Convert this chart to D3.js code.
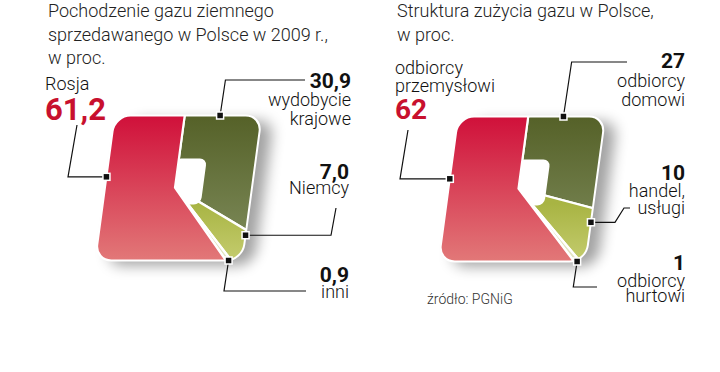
<!DOCTYPE html>
<html>
<head>
<meta charset="utf-8">
<script src="https://cdn.jsdelivr.net/npm/d3@7"></script>
<style>
body { margin: 0; background: #fff; }
text { font-family: Roboto, "Open Sans", sans-serif; }
</style>
</head>
<body>
<svg id="chart" width="720" height="372"></svg>
<script>
// slices are listed clockwise from 12 o'clock
var originNames = [["wydobycie", "krajowe"], ["Niemcy"], ["inni"], ["Rosja"]];
var originValues = [30.9, 7.0, 0.9, 61.2];

var useNames = [["odbiorcy", "domowi"], ["handel,", "usługi"], ["odbiorcy", "hurtowi"], ["odbiorcy", "przemysłowi"]];
var useValues = [27, 10, 1, 62];

var titleLeft = ["Pochodzenie gazu ziemnego", "sprzedawanego w Polsce w 2009 r.,", "w proc."];
var titleRight = ["Struktura zużycia gazu w Polsce,", "w proc."];
var sourceNote = "źródło: PGNiG";

// colours: [top, bottom] of each slice gradient
var sliceColors = [["#556128", "#7a8756"], ["#a8b443", "#c4cc6e"], ["#d9ddb0", "#e4e6c4"], ["#d0103a", "#e27878"]];
var gradRange = [[-72, 50], [15, 73], [15, 73], [-72, 73]];
var red = "#c8102e";

var plLocale = d3.formatLocale({ decimal: ",", thousands: " ", grouping: [3], currency: ["", " zł"] });

var svg = d3.select("#chart");
var defs = svg.append("defs");

var skew = 0.135; // horizontal lean of the tiles
var outer = { x0: -70, x1: 77, y0: -72, y1: 73, r: 16 };
var hole = { x0: -5, x1: 28, y0: -29, y1: 17, r: 7 };

var shadow = defs.append("filter").attr("id", "shadow")
    .attr("x", "-30%").attr("y", "-30%").attr("width", "160%").attr("height", "160%");
shadow.append("feGaussianBlur").attr("stdDeviation", 7);

function inRound(x, y, b) {
    if (x < b.x0 || x > b.x1 || y < b.y0 || y > b.y1) return false;
    var dx = Math.max(b.x0 + b.r - x, 0, x - (b.x1 - b.r));
    var dy = Math.max(b.y0 + b.r - y, 0, y - (b.y1 - b.r));
    return dx * dx + dy * dy <= b.r * b.r;
}

// pie angle -> angle that gives the same share of the tile's area
function areaWarp() {
    var list = [];
    for (var x = outer.x0; x <= outer.x1; x += 0.5) {
        for (var y = outer.y0; y <= outer.y1; y += 0.5) {
            if (!inRound(x, y, outer)) continue;
            if (x >= 0 && inRound(x, y, hole)) continue;
            var a = Math.atan2(x, -y);
            if (a < 0) a += 2 * Math.PI;
            list.push(a);
        }
    }
    var angles = Float64Array.from(list).sort();
    var n = angles.length;
    return function(t) {
        if (t <= 0) return 0;
        if (t >= 2 * Math.PI - 1e-9) return 2 * Math.PI;
        return angles[Math.min(n - 1, Math.round(t / (2 * Math.PI) * n))];
    };
}
var warp = areaWarp();

function edgePoint(a) {
    var dx = Math.sin(a), dy = -Math.cos(a);
    var t = Infinity;
    if (dx > 1e-9) t = Math.min(t, outer.x1 / dx);
    if (dx < -1e-9) t = Math.min(t, outer.x0 / dx);
    if (dy > 1e-9) t = Math.min(t, outer.y1 / dy);
    if (dy < -1e-9) t = Math.min(t, outer.y0 / dy);
    return [dx * t, dy * t];
}

var charts = [{
    id: "a", names: originNames, values: originValues, fmt: plLocale.format(".1f"),
    cx: 175, cy: 187.5, title: titleLeft, titleX: 48,
    labels: [
        { anchor: "end", x: 351, numY: 88, nameY: [106, 125], k: 0.22, leader: [["s", 80], ["h", 305]] },
        { anchor: "end", x: 349, numY: 179, nameY: [194], k: 0.15, leader: [["h", 331], ["p", 336, 208]] },
        { anchor: "end", x: 349, numY: 281.5, nameY: [297.5], k: 0.5, leader: [["s", 291], ["h", 306]] },
        { anchor: "start", x: 45, numY: 120, nameY: [89.5], k: 0.63, size: 31, leader: [["h", 68], ["p", 77, 125]] }
    ]
}, {
    id: "b", names: useNames, values: useValues, fmt: plLocale.format("d"),
    cx: 518.5, cy: 188.5, title: titleRight, titleX: 397,
    labels: [
        { anchor: "end", x: 685, numY: 68, nameY: [87, 106], k: 0.25, leader: [["s", 62], ["h", 627]] },
        { anchor: "end", x: 685, numY: 180, nameY: [196.5, 214], k: 0.3, leader: [["h", 615], ["p", 624, 208], ["p", 630, 208]] },
        { anchor: "end", x: 685, numY: 270, nameY: [286.5, 301.5], k: 0.5, leader: [["s", 287], ["h", 597]] },
        { anchor: "start", x: 395, numY: 119, nameY: [74, 92], k: 0.63, size: 28, leader: [["h", 400], ["p", 408, 130]] }
    ]
}];

var pie = d3.pie().sort(null).value(function(d) { return d; });
var arc = d3.arc().innerRadius(0).outerRadius(160);

charts.forEach(function(c) {
    // title
    svg.append("g").selectAll("text").data(c.title).enter().append("text")
        .attr("x", c.titleX)
        .attr("y", function(d, i) { return 17 + i * 23.5; })
        .attr("font-size", 18).attr("font-weight", 300).attr("fill", "#222")
        .text(function(d) { return d; });

    var arcs = pie(c.values).map(function(d) {
        return { data: d.data, index: d.index, startAngle: warp(d.startAngle), endAngle: warp(d.endAngle) };
    });
    var big = d3.maxIndex(c.values);

    sliceColors.forEach(function(col, i) {
        var g = defs.append("linearGradient").attr("id", "g" + c.id + i)
            .attr("gradientUnits", "userSpaceOnUse")
            .attr("x1", 0).attr("x2", 0).attr("y1", gradRange[i][0]).attr("y2", gradRange[i][1]);
        g.append("stop").attr("offset", 0).attr("stop-color", col[0]);
        g.append("stop").attr("offset", 1).attr("stop-color", col[1]);
    });

    defs.append("clipPath").attr("id", "clip" + c.id).append("rect")
        .attr("x", outer.x0).attr("y", outer.y0)
        .attr("width", outer.x1 - outer.x0).attr("height", outer.y1 - outer.y0)
        .attr("rx", outer.r);

    var lean = "skewX(" + (-Math.atan(skew) * 180 / Math.PI) + ")";

    svg.append("rect")
        .attr("transform", "translate(" + (c.cx + 12) + "," + (c.cy + 5) + ") " + lean)
        .attr("x", outer.x0).attr("y", outer.y0)
        .attr("width", outer.x1 - outer.x0).attr("height", outer.y1 - outer.y0)
        .attr("rx", outer.r)
        .attr("fill", "#000").attr("opacity", 0.36)
        .attr("filter", "url(#shadow)");

    var tile = svg.append("g").attr("transform", "translate(" + c.cx + "," + c.cy + ") " + lean);
    var body = tile.append("g").attr("clip-path", "url(#clip" + c.id + ")");

    function slice(d) {
        body.append("path")
            .attr("d", arc(d))
            .attr("fill", "url(#g" + c.id + d.index + ")")
            .attr("stroke", "#fff").attr("stroke-width", 2.2)
            .attr("stroke-linejoin", "round");
    }
    arcs.filter(function(d) { return d.index !== big; }).forEach(slice);
    body.append("rect")
        .attr("x", hole.x0).attr("y", hole.y0)
        .attr("width", hole.x1 - hole.x0).attr("height", hole.y1 - hole.y0)
        .attr("rx", hole.r)
        .attr("fill", "#fff");
    slice(arcs[big]);

    tile.append("rect")
        .attr("x", outer.x0).attr("y", outer.y0)
        .attr("width", outer.x1 - outer.x0).attr("height", outer.y1 - outer.y0)
        .attr("rx", outer.r)
        .attr("fill", "none").attr("stroke", "#fff").attr("stroke-width", 2);

    // leaders, markers, labels
    arcs.forEach(function(d, i) {
        var lab = c.labels[i];
        var e = edgePoint(d.startAngle + lab.k * (d.endAngle - d.startAngle));
        var m = [c.cx + e[0] - skew * e[1], c.cy + e[1]];
        var pts = [m];
        lab.leader.forEach(function(s) {
            var last = pts[pts.length - 1];
            if (s[0] === "h") pts.push([s[1], last[1]]);
            else if (s[0] === "s") pts.push([last[0] + (last[1] - s[1]) * 0.15, s[1]]);
            else pts.push([s[1], s[2]]);
        });
        svg.append("path")
            .attr("d", d3.line()(pts))
            .attr("fill", "none").attr("stroke", "#111").attr("stroke-width", 1.2);
        svg.append("rect")
            .attr("x", m[0] - 3.5).attr("y", m[1] - 3.5)
            .attr("width", 7).attr("height", 7)
            .attr("fill", "#111").attr("stroke", "#fff").attr("stroke-width", 1.5);

        var isBig = i === big;
        svg.append("text")
            .attr("x", lab.x).attr("y", lab.numY)
            .attr("text-anchor", lab.anchor)
            .attr("font-size", lab.size || 21).attr("font-weight", 700)
            .attr("fill", isBig ? red : "#111")
            .text(c.fmt(d.data));
        svg.append("g").selectAll("text").data(c.names[i]).enter().append("text")
            .attr("x", lab.x)
            .attr("y", function(t, j) { return lab.nameY[j]; })
            .attr("text-anchor", lab.anchor)
            .attr("font-size", 18).attr("font-weight", 300).attr("fill", "#111")
            .text(function(t) { return t; });
    });
});

svg.append("text")
    .attr("x", 427).attr("y", 304)
    .attr("font-size", 14).attr("font-weight", 300).attr("fill", "#333")
    .text(sourceNote);
</script>
</body>
</html>
